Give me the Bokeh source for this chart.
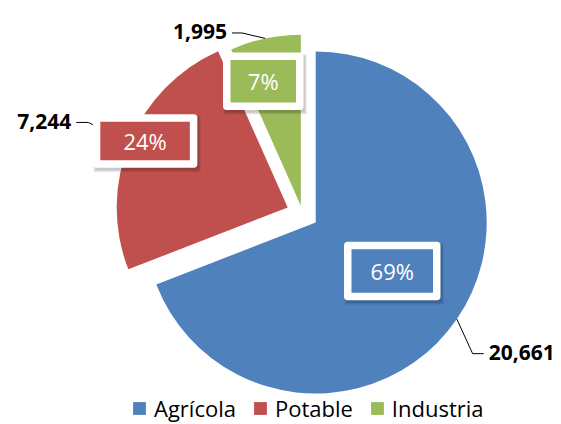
import numpy as np
from bokeh.plotting import figure
from bokeh.models import ColumnDataSource, Range1d, Legend, LegendItem
from bokeh.embed import file_html
from bokeh.resources import INLINE
from bokeh.core.properties import value

# ---- data ----
categories = ["Agrícola", "Potable", "Industria"]
volumes = [20661, 7244, 1995]
value_labels = ["20,661", "7,244", "1,995"]
colors = ["#4F81BD", "#C0504D", "#9BBB59"]

# ---- layout (pixel-like data space: X = x_px, Y = -y_px) ----
W, H = 561, 424
CX, CY = 302.0, -213.0
R = 171.0
explode = [16, 16, 8]
pct_frac = [0.53, 0.92, 0.76]          # radial position of % boxes (x R)
pct_nudge = [-2.0, 2.6, -4.8]          # deg
pct_box_w = [89, 97, 73]
pct_box_h = [51, 46, 50]
lead_frac = [1.196, 1.268, 1.067]      # elbow of leader lines (x R)
lead_nudge = [5.5, 0.7, -6.8]          # deg
lead_side = [1, -1, -1]
lead_len = [11, 12, 10]
text_gap = [5, 5, 5]

total = float(sum(volumes))
fracs = np.array(volumes) / total
cum = np.concatenate([[0.0], np.cumsum(fracs)]) * 2 * np.pi
t0, t1 = cum[:-1], cum[1:]
mid = (t0 + t1) / 2

ax = CX + np.array(explode) * np.sin(mid)
ay = CY + np.array(explode) * np.cos(mid)

src = ColumnDataSource(dict(
    x=ax, y=ay, start=np.pi / 2 - t0, end=np.pi / 2 - t1,
    color=colors, cat=categories))

p = figure(width=W, height=H, output_backend="svg", toolbar_location=None,
           x_range=Range1d(0, W), y_range=Range1d(-H, 0),
           x_axis_type=None, y_axis_type=None, min_border=0,
           background_fill_color="white", border_fill_color="white")
p.grid.visible = False
p.outline_line_color = None

wr = p.wedge(x="x", y="y", radius=R, start_angle="start", end_angle="end",
             direction="clock", fill_color="color", line_color=None, source=src)

# leader lines + value labels
for i in range(3):
    ex = ax[i] + R * np.sin(mid[i])
    ey = ay[i] + R * np.cos(mid[i])
    a = mid[i] + np.radians(lead_nudge[i])
    bx = ax[i] + R * lead_frac[i] * np.sin(a)
    by = ay[i] + R * lead_frac[i] * np.cos(a)
    hx = bx + lead_side[i] * lead_len[i]
    p.line([ex, bx, hx], [ey, by, by], line_color="black", line_width=1)
    p.text(x=[hx + lead_side[i] * text_gap[i]], y=[by + 1], text=[value_labels[i]],
           text_font=value("Open Sans"), text_font_size="21px",
           text_font_style="bold", text_color="black",
           text_align="left" if lead_side[i] > 0 else "right",
           text_baseline="alphabetic")

# percentage boxes
pa = mid + np.radians(pct_nudge)
px_ = ax + R * np.array(pct_frac) * np.sin(pa)
py_ = ay + R * np.array(pct_frac) * np.cos(pa)
pct_text = [f"{round(f * 100)}%" for f in fracs]
bw = np.array(pct_box_w)
bh = np.array(pct_box_h)
p.rect(x=px_ + 2, y=py_ - 3, width=bw + 10, height=bh + 10,
       fill_color="black", fill_alpha=0.10, line_color=None)
p.rect(x=px_ + 2, y=py_ - 3, width=bw + 7, height=bh + 7,
       fill_color="black", fill_alpha=0.12, line_color=None)
p.rect(x=px_, y=py_, width=bw, height=bh, fill_color=colors,
       line_color="white", line_width=7.5, line_join="round")
p.text(x=px_, y=py_, text=pct_text, text_font=value("Open Sans"),
       text_font_size="22px", text_color="white", text_align="center",
       text_baseline="middle")

legend = Legend(items=[LegendItem(label=categories[i], renderers=[wr], index=i)
                       for i in range(3)],
                orientation="horizontal", location=(131, 1),
                glyph_width=16, glyph_height=16, label_standoff=7, spacing=16,
                padding=0, margin=0, border_line_alpha=0,
                background_fill_alpha=0,
                label_text_font="Open Sans", label_text_font_size="22px",
                label_text_color="black")
p.add_layout(legend)

open("out.html", "w").write(file_html(p, INLINE))
